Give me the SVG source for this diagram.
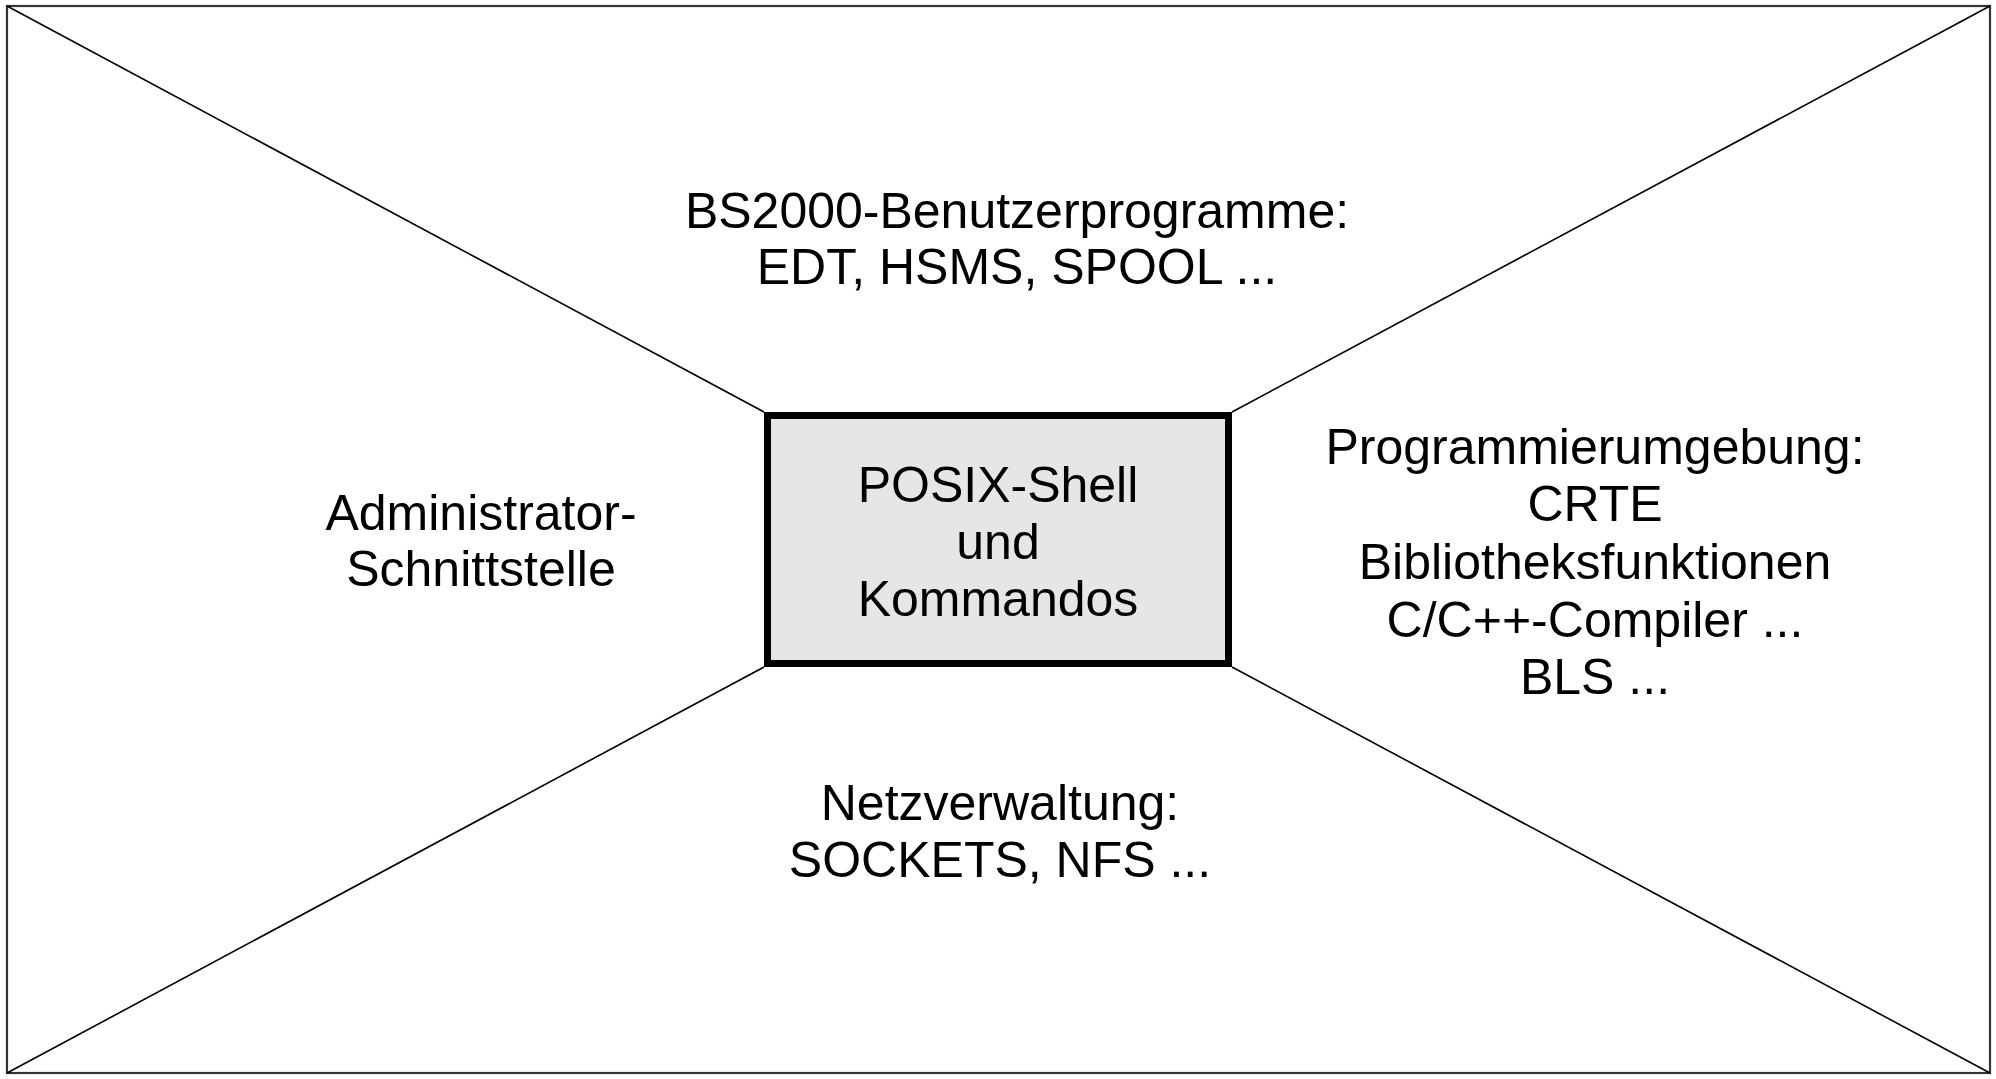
<svg xmlns="http://www.w3.org/2000/svg" width="1996" height="1079" viewBox="0 0 1996 1079">
<style>
.t{font-family:"Liberation Sans",Arial,sans-serif;font-size:50px;fill:#000;text-anchor:middle}
.d{stroke:#000;stroke-width:1.6;fill:none}
</style>
<rect x="0" y="0" width="1996" height="1079" fill="#fff"/>
<g id="frame">
<rect x="7" y="6" width="1983" height="1067" fill="none" stroke="#333" stroke-width="2.2"/>
</g>
<g id="connectors">
<line class="d" x1="7" y1="6" x2="764" y2="412"/>
<line class="d" x1="1990" y1="6" x2="1232" y2="412"/>
<line class="d" x1="7" y1="1073" x2="764" y2="667"/>
<line class="d" x1="1990" y1="1073" x2="1232" y2="667"/>
</g>
<g id="center">
<rect x="767.5" y="415.5" width="461" height="248" fill="#e6e6e6" stroke="#000" stroke-width="7"/>
<text class="t" x="998" y="502">POSIX-Shell</text>
<text class="t" x="998" y="559">und</text>
<text class="t" x="998" y="616">Kommandos</text>
</g>
<g id="top">
<text class="t" x="1017" y="228">BS2000-Benutzerprogramme:</text>
<text class="t" x="1017" y="284">EDT, HSMS, SPOOL ...</text>
</g>
<g id="left">
<text class="t" x="481" y="530">Administrator-</text>
<text class="t" x="481" y="586">Schnittstelle</text>
</g>
<g id="right">
<text class="t" x="1595" y="464">Programmierumgebung:</text>
<text class="t" x="1595" y="521">CRTE</text>
<text class="t" x="1595" y="579">Bibliotheksfunktionen</text>
<text class="t" x="1595" y="637">C/C++-Compiler ...</text>
<text class="t" x="1595" y="694">BLS ...</text>
</g>
<g id="bottom">
<text class="t" x="1000" y="820">Netzverwaltung:</text>
<text class="t" x="1000" y="877">SOCKETS, NFS ...</text>
</g>
</svg>
